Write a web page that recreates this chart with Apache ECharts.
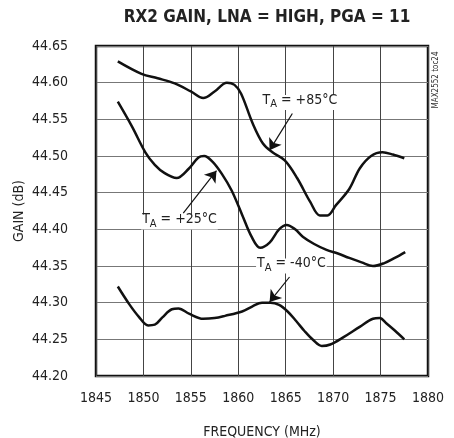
<!DOCTYPE html>
<html>
<head>
<meta charset="utf-8">
<script src="https://cdn.jsdelivr.net/npm/echarts@6/dist/echarts.min.js"></script>
<style>
  html, body { margin: 0; padding: 0; background: #fff; }
  #chart { width: 454px; height: 438px; }
</style>
</head>
<body>
<div id="chart"></div>
<script>
// curves, MHz / dB
var freq85 = [1847.3, 1849.8, 1851.5, 1853.3, 1855.0, 1856.3, 1857.5, 1858.8, 1859.6, 1860.3, 1861.5, 1862.6, 1863.6, 1864.9, 1866.2, 1867.6, 1868.6, 1869.4, 1870.3, 1871.7, 1872.8, 1874.0, 1875.2, 1876.3, 1877.5];
var gain85 = [44.629, 44.612, 44.606, 44.599, 44.588, 44.579, 44.588, 44.600, 44.597, 44.585, 44.545, 44.517, 44.505, 44.494, 44.470, 44.437, 44.419, 44.419, 44.433, 44.455, 44.483, 44.500, 44.505, 44.502, 44.497];

var freq25 = [1847.3, 1848.8, 1850.2, 1851.2, 1852.2, 1853.5, 1854.8, 1855.8, 1856.4, 1857.3, 1858.3, 1859.3, 1860.4, 1861.4, 1862.3, 1863.3, 1864.3, 1865.1, 1866.0, 1866.8, 1868.0, 1869.3, 1870.5, 1871.7, 1873.0, 1874.2, 1875.4, 1876.5, 1877.6];
var gain25 = [44.574, 44.540, 44.505, 44.488, 44.477, 44.470, 44.483, 44.498, 44.500, 44.492, 44.475, 44.453, 44.420, 44.390, 44.375, 44.382, 44.400, 44.406, 44.400, 44.390, 44.380, 44.372, 44.367, 44.361, 44.355, 44.350, 44.354, 44.361, 44.369];

var freqM40 = [1847.3, 1848.5, 1849.5, 1850.5, 1851.2, 1852.0, 1853.0, 1853.7, 1854.8, 1856.3, 1857.5, 1858.6, 1860.4, 1861.5, 1862.5, 1863.4, 1864.3, 1865.2, 1866.1, 1867.0, 1867.9, 1868.8, 1869.7, 1871.1, 1872.8, 1874.2, 1874.9, 1875.6, 1876.5, 1877.5];
var gainM40 = [44.322, 44.298, 44.281, 44.269, 44.270, 44.280, 44.291, 44.292, 44.285, 44.278, 44.279, 44.282, 44.288, 44.295, 44.300, 44.300, 44.297, 44.288, 44.275, 44.261, 44.249, 44.241, 44.243, 44.253, 44.267, 44.278, 44.279, 44.272, 44.262, 44.250];

// label text, label position, arrow start, arrow tip
var labels = ["+85°C", "+25°C", "-40°C"];
var labelAt = [[1866.5, 44.573], [1853.8, 44.410], [1865.6, 44.350]];
var arrowFrom = [[1865.7, 44.558], [1854.2, 44.422], [1865.4, 44.335]];
var arrowTo = [[1863.3, 44.508], [1857.7, 44.480], [1863.3, 44.301]];

var FONT = "'DejaVu Sans Condensed', 'Roboto', sans-serif";

function zip(xs, ys) {
  return xs.map(function (x, i) { return [x, ys[i]]; });
}

function curve(xs, ys, idx) {
  return {
    type: "line",
    data: zip(xs, ys),
    smooth: 0.35,
    showSymbol: false,
    lineStyle: { color: "#111", width: 2.5 },
    markPoint: {
      symbol: "circle",
      symbolSize: 0,
      silent: true,
      animation: false,
      data: [{
        coord: labelAt[idx],
        label: {
          show: true,
          position: "inside",
          formatter: "{t|T}{s|A}{t| = " + labels[idx] + "}",
          backgroundColor: "#fff",
          padding: [0, 1],
          rich: {
            t: { fontFamily: FONT, fontSize: 14, color: "#222", verticalAlign: "bottom", lineHeight: 15, padding: [0, 0, 3, 0] },
            s: { fontFamily: FONT, fontSize: 11, color: "#222", verticalAlign: "bottom", lineHeight: 12 }
          }
        }
      }]
    },
    markLine: {
      silent: true,
      animation: false,
      symbol: ["none", "arrow"],
      symbolSize: 11,
      label: { show: false },
      lineStyle: { color: "#111", width: 1.2, type: "solid" },
      data: [[{ coord: arrowFrom[idx] }, { coord: arrowTo[idx] }]]
    }
  };
}

var chart = echarts.init(document.getElementById("chart"));
chart.setOption({
  animation: false,
  title: {
    text: "RX2 GAIN, LNA = HIGH, PGA = 11",
    left: 262,
    top: 4,
    textAlign: "center",
    textStyle: { fontFamily: FONT, fontWeight: "bold", fontSize: 17, color: "#222" }
  },
  grid: {
    left: 96, right: 26, top: 46, bottom: 62,
    outerBoundsMode: "none",
    containLabel: false,
    show: true, borderColor: "#111", borderWidth: 2.5, backgroundColor: "transparent"
  },
  xAxis: {
    type: "value",
    min: 1845, max: 1880, interval: 5,
    name: "FREQUENCY (MHz)",
    nameLocation: "middle",
    nameGap: 49,
    nameTextStyle: { fontFamily: FONT, fontSize: 14, color: "#222" },
    axisLine: { show: false },
    axisTick: { show: false },
    axisLabel: {
      margin: 15, fontFamily: FONT, fontSize: 14, color: "#222",
      formatter: function (v) { return String(v); }
    },
    splitLine: { show: true, lineStyle: { color: "#444", width: 1 } }
  },
  yAxis: {
    type: "value",
    min: 44.2, max: 44.65, interval: 0.05,
    name: "GAIN (dB)",
    nameLocation: "middle",
    nameGap: 70,
    nameMoveOverlap: false,
    nameTextStyle: { fontFamily: FONT, fontSize: 14, color: "#222" },
    axisLine: { show: false },
    axisTick: { show: false },
    axisLabel: {
      margin: 28, fontFamily: FONT, fontSize: 14, color: "#222",
      formatter: function (v) { return v.toFixed(2); }
    },
    splitLine: { show: true, lineStyle: { color: "#777", width: 1 } }
  },
  graphic: [{
    type: "text",
    x: 436,
    y: 80,
    rotation: Math.PI / 2,
    style: {
      text: "MAX2552 toc24",
      fontFamily: FONT,
      fontSize: 8,
      fill: "#333",
      align: "center",
      verticalAlign: "middle"
    }
  }],
  series: [
    curve(freq85, gain85, 0),
    curve(freq25, gain25, 1),
    curve(freqM40, gainM40, 2)
  ]
});
</script>
</body>
</html>
